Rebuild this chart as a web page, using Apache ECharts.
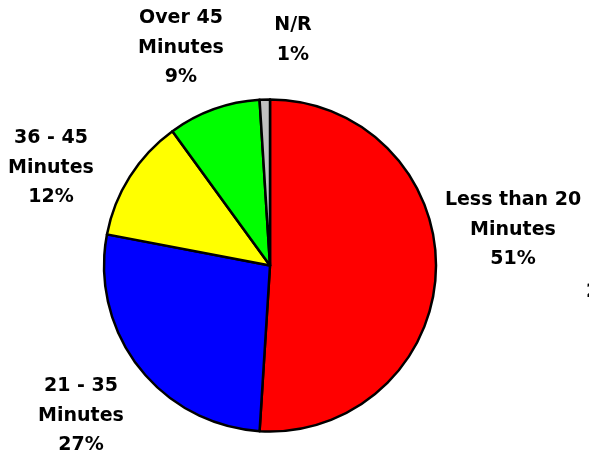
<!DOCTYPE html>
<html>
<head>
<meta charset="utf-8">
<script src="https://cdn.jsdelivr.net/npm/echarts@6/dist/echarts.min.js"></script>
<style>
html,body{margin:0;padding:0;background:#fff;}
#chart{width:589px;height:460px;}
</style>
</head>
<body>
<div id="chart"></div>
<script>
const categories = ["Less than 20\nMinutes", "21 - 35\nMinutes", "36 - 45\nMinutes", "Over 45\nMinutes", "N/R"];
const values = [51, 27, 12, 9, 1];
const colors = ["#ff0000", "#0000ff", "#ffff00", "#00ff00", "#c0c0c0"];
const labelCenters = [[513, 230], [81, 416], [51, 168], [181, 48], [293, 40]];

const chart = echarts.init(document.getElementById('chart'), null, {renderer: 'canvas'});
chart.setOption({
  animation: false,
  backgroundColor: '#ffffff',
  series: [{
    type: 'pie',
    center: [270, 265.5],
    radius: 166,
    startAngle: 90,
    clockwise: true,
    avoidLabelOverlap: false,
    data: categories.map((c, i) => ({
      name: c, value: values[i],
      itemStyle: {color: colors[i]}
    })),
    itemStyle: {borderColor: '#000', borderWidth: 2.5},
    label: {
      show: true,
      formatter: p => p.name + '\n' + p.value + '%',
      color: '#000',
      fontFamily: 'DejaVu Sans',
      fontWeight: 'bold',
      fontSize: 19,
      lineHeight: 29.5,
      align: 'center'
    },
    labelLine: {show: false},
    labelLayout: function (params) {
      const p = labelCenters[params.dataIndex];
      return {x: p[0], y: p[1], align: 'center', verticalAlign: 'middle'};
    },
    emphasis: {disabled: true}
  }],
  graphic: [{
    type: 'text', left: 586, top: 283,
    style: {text: '2', fontFamily: 'DejaVu Sans', fontWeight: 'bold', fontSize: 19, fill: '#000'}
  }]
});
</script>
</body>
</html>
